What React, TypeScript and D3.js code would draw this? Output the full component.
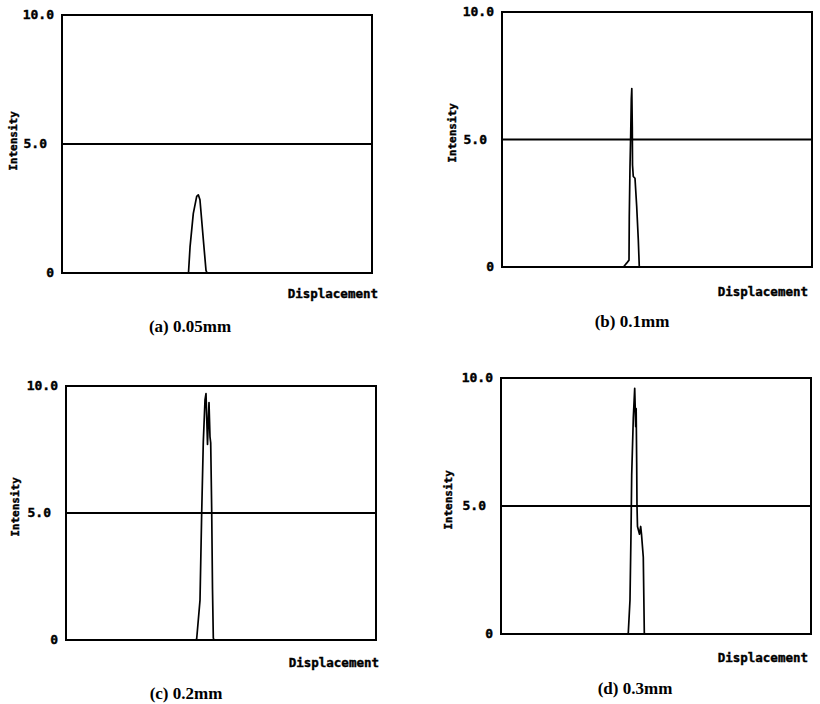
import React from 'react';
import * as d3 from 'd3';

// intensity profiles, [displacement (0-100 of the window), intensity]
const peakA: [number, number][] = [
  [0, 0], [40.8, 0], [41.3, 1.0], [42.35, 2.3], [43.45, 2.97], [43.97, 3.03],
  [44.5, 2.84], [45.6, 1.28], [46.45, 0.1], [46.8, 0], [100, 0],
];
const peakB: [number, number][] = [
  [0, 0], [39.2, 0], [39.7, 0.08], [40.2, 0.15], [40.97, 0.27], [41.06, 1.97], [41.29, 3.92],
  [41.52, 5.22], [41.71, 6.6], [41.87, 7.0], [42.03, 5.5], [42.1, 4.0], [42.35, 3.55],
  [42.9, 3.48], [43.45, 2.37], [43.97, 1.06], [44.29, 0], [100, 0],
];
const peakC: [number, number][] = [
  [0, 0], [41.8, 0], [42.16, 0.05], [43.23, 1.57], [43.77, 5.0], [44.29, 7.8], [44.84, 9.45],
  [45.16, 9.7], [45.65, 7.7], [45.9, 8.6], [46.13, 9.35], [46.45, 8.0], [46.68, 7.76],
  [47.0, 5.1], [47.26, 2.0], [47.52, 0.08], [47.74, 0], [100, 0],
];
const peakD: [number, number][] = [
  [0, 0], [40.8, 0], [41.06, 0.04], [41.61, 1.33], [41.94, 3.96], [42.16, 6.2], [42.68, 8.44],
  [43.13, 9.6], [43.45, 8.1], [43.6, 8.8], [43.77, 6.7], [43.87, 5.0], [44.03, 4.2],
  [44.68, 3.9], [45.06, 4.2], [45.32, 3.9], [45.9, 3.0], [46.23, 0.04], [46.45, 0], [100, 0],
];

const yTicks = [0, 5, 10];
const yTickLabels = ['0', '5.0', '10.0'];
const captions = ['(a) 0.05mm', '(b) 0.1mm', '(c) 0.2mm', '(d) 0.3mm'];
const xTitle = 'Displacement';
const yTitle = 'Intensity';

const panels = [
  { data: peakA, left: 62, right: 372, top: 15, bottom: 273, capX: 190, capY: 332, xtX: 378, xtY: 298, ytX: 17, ytY: 141 },
  { data: peakB, left: 502, right: 812, top: 12, bottom: 267, capX: 632, capY: 327, xtX: 808, xtY: 296, ytX: 456, ytY: 133 },
  { data: peakC, left: 66, right: 376, top: 386, bottom: 640, capX: 186, capY: 699, xtX: 379, xtY: 667, ytX: 19, ytY: 507 },
  { data: peakD, left: 501, right: 811, top: 378, bottom: 634, capX: 635, capY: 694, xtX: 808, xtY: 662, ytX: 452, ytY: 500 },
];

const mono = '"DejaVu Sans Mono", monospace';

function Panel({ p, caption }: { p: typeof panels[number]; caption: string }) {
  const x = d3.scaleLinear().domain([0, 100]).range([p.left, p.right]);
  const y = d3.scaleLinear().domain([0, 10]).range([p.bottom, p.top]);
  const line = d3.line<[number, number]>().x(d => x(d[0])).y(d => y(d[1]));
  const heavy = { stroke: '#000', strokeWidth: 0.4 };

  return (
    <g>
      <rect x={p.left} y={p.top} width={p.right - p.left} height={p.bottom - p.top}
        fill="none" stroke="#000" strokeWidth={2} />
      <line x1={p.left} x2={p.right} y1={y(5)} y2={y(5)} stroke="#000" strokeWidth={2} />
      {yTicks.map((t, i) => (
        <text key={t} x={p.left - (t === 5 ? 15 : 8)} y={y(t) + 4} textAnchor="end"
          fontFamily={mono} fontWeight="bold" fontSize={13} {...heavy}>{yTickLabels[i]}</text>
      ))}
      <text transform={`translate(${p.ytX},${p.ytY}) rotate(-90)`} textAnchor="middle"
        fontFamily={mono} fontWeight="bold" fontSize={11} {...heavy}>{yTitle}</text>
      <text x={p.xtX} y={p.xtY} textAnchor="end" fontFamily={mono} fontWeight="bold"
        fontSize={12.5} {...heavy}>{xTitle}</text>
      <path d={line(p.data) || ''} fill="none" stroke="#000" strokeWidth={1.7} strokeLinejoin="round" />
      <text x={p.capX} y={p.capY} textAnchor="middle" fontFamily='"Liberation Serif", serif'
        fontWeight="bold" fontSize={17}>{caption}</text>
    </g>
  );
}

export default function App() {
  return (
    <svg width={820} height={704} style={{ position: 'absolute', left: 0, top: 0, background: '#fff' }}>
      <rect width={820} height={704} fill="#fff" />
      {panels.map((p, i) => <Panel key={i} p={p} caption={captions[i]} />)}
    </svg>
  );
}
